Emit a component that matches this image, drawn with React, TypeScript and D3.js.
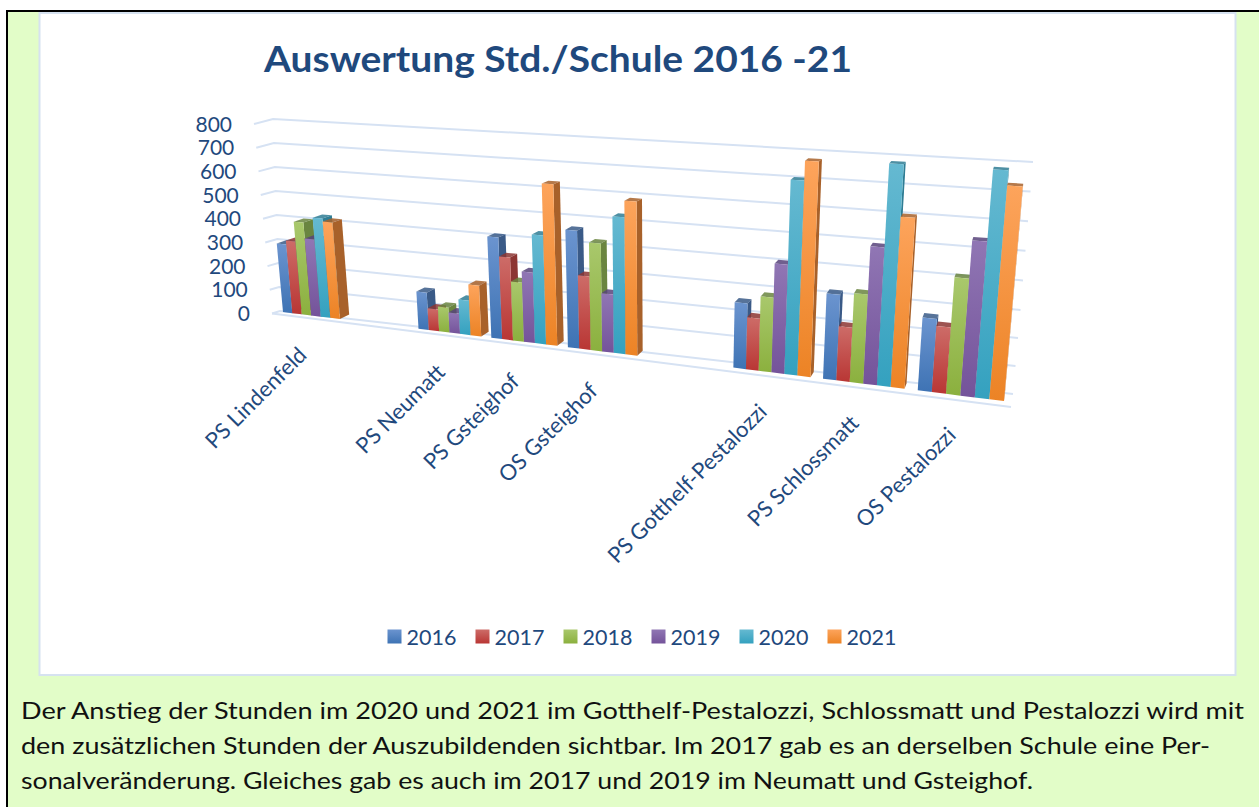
import React from "react";
import * as d3 from "d3";

const titleText = "Auswertung Std./Schule 2016 -21";
const categories = ["PS Lindenfeld", "PS Neumatt", "PS Gsteighof", "OS Gsteighof", "PS Gotthelf-Pestalozzi", "PS Schlossmatt", "OS Pestalozzi"];
const slots = [0, 2, 3, 4, 6, 7, 8];
const years = ["2016", "2017", "2018", "2019", "2020", "2021"];
const s2016 = [284, 149, 390, 441, 237, 300, 251];
const s2017 = [300, 87, 319, 277, 188, 191, 227];
const s2018 = [380, 99, 228, 402, 267, 310, 394];
const s2019 = [316, 80, 270, 219, 386, 472, 518];
const s2020 = [403, 136, 413, 503, 673, 745, 745];
const s2021 = [391, 199, 602, 562, 738, 577, 698];
const series = [s2016, s2017, s2018, s2019, s2020, s2021];
const ticks = [0, 100, 200, 300, 400, 500, 600, 700, 800];
const faceTop = ["#6b94cf", "#cd6c68", "#a9c86c", "#9076b4", "#65b9d1", "#fda45c"];
const faceBottom = ["#3e73b4", "#b93634", "#8bb03e", "#74539a", "#34a1bf", "#ec8325"];
const sideColor = ["#3a5a87", "#8c3533", "#6a8540", "#57437a", "#2f7d94", "#a8612a"];
const textLines = [
  "Der Anstieg der Stunden im 2020 und 2021 im Gotthelf-Pestalozzi, Schlossmatt und Pestalozzi wird mit",
  "den zusätzlichen Stunden der Auszubildenden sichtbar. Im 2017 gab es an derselben Schule eine Per-",
  "sonalveränderung. Gleiches gab es auch im 2017 und 2019 im Neumatt und Gsteighof.",
];
const FONT = "Lato, 'Open Sans', sans-serif";
const NAVY = "#1f497d";

// Bar front plane: a projective map from (slot, value) to the page.
const project = (s: number, value: number): [number, number] => {
  const v = value / 100;
  const w = 1 - 0.0232 * s - 0.0058 * v;
  return [(283 + 58.05 * s - 3.8 * v) / w, (312 + 0.74 * s - 25.5 * v) / w];
};
const VP: [number, number] = [1060, -30];
const DEPTH = 0.0128;
const back = (p: [number, number]): [number, number] => [p[0] + DEPTH * (VP[0] - p[0]), p[1] + DEPTH * (VP[1] - p[1])];

// Back wall and left wall gridlines.
const yLeftX = d3.scaleLinear().domain([0, 800]).range([280, 273]);
const yLeftY = d3.scaleLinear().domain([0, 800]).range([311, 119]);
const yRightX = d3.scaleLinear().domain([0, 800]).range([1013, 1033]);
const yRightY = d3.scaleLinear().domain([0, 300, 800]).range([394, 310, 162]);
const yFrontX = d3.scaleLinear().domain([0, 800]).range([272, 254]);
const yFrontY = d3.scaleLinear().domain([0, 800]).range([313.5, 124]);

const bandWidth = 0.144;
const poly = (pts: [number, number][]) => d3.line()(pts) + "Z";

export default function App() {
  return (
    <svg width={1259} height={807} style={{ position: "absolute", left: 0, top: 0, display: "block" }}>
      <defs>
        {years.map((y, i) => (
          <linearGradient key={y} id={`g${i}`} x1="0" y1="0" x2="0" y2="1">
            <stop offset="0" stopColor={faceTop[i]} />
            <stop offset="1" stopColor={faceBottom[i]} />
          </linearGradient>
        ))}
      </defs>
      <rect x={0} y={0} width={1259} height={807} fill="#ffffff" />
      <rect x={7} y={11} width={1252} height={796} fill="#e2fdc8" />
      <path d="M7 807V11H1259" fill="none" stroke="#000" strokeWidth={2} />
      <rect x={39.5} y={13} width={1196} height={662} fill="#ffffff" stroke="#d6e2f0" strokeWidth={2} />

      <text x={558} y={72} textAnchor="middle" fontFamily={FONT} fontWeight={700} fontSize={37} fill={NAVY} textLength={588} lengthAdjust="spacingAndGlyphs">
        {titleText}
      </text>

      {ticks.map((t) => (
        <g key={t}>
          <path d={d3.line()([[yFrontX(t), yFrontY(t)], [yLeftX(t), yLeftY(t)], [yRightX(t), yRightY(t)]]) || ""} fill="none" stroke="#d6e2f3" strokeWidth={2} />
          <text x={yFrontX(t) - 22} y={yFrontY(t) + 7.5} textAnchor="end" fontFamily={FONT} fontSize={21} fill={NAVY}>
            {t}
          </text>
        </g>
      ))}
      <path d={d3.line()([[yFrontX(0), yFrontY(0)], [1011, 407]]) || ""} fill="none" stroke="#d6e2f3" strokeWidth={2} />

      {categories.map((c, ci) =>
        years.map((y, si) => {
          const s0 = slots[ci] + si * bandWidth;
          const s1 = s0 + bandWidth;
          const val = series[si][ci];
          const bl = project(s0, 0), br = project(s1, 0), tl = project(s0, val), tr = project(s1, val);
          return (
            <g key={c + y}>
              <path d={poly([tl, tr, back(tr), back(tl)])} fill={sideColor[si]} fillOpacity={0.85} />
              <path d={poly([br, tr, back(tr), back(br)])} fill={sideColor[si]} />
              <path d={poly([bl, br, tr, tl])} fill={`url(#g${si})`} />
            </g>
          );
        })
      )}

      {categories.map((c, ci) => {
        const [x, y] = project(slots[ci] + 0.43, 0);
        return (
          <text key={c} transform={`translate(${x - 3},${y + 41}) rotate(-45)`} textAnchor="end" fontFamily={FONT} fontSize={22} fill={NAVY}>
            {c}
          </text>
        );
      })}

      {years.map((y, i) => (
        <g key={y} transform={`translate(${387.5 + i * 88},629.5)`}>
          <rect x={0} y={0} width={14} height={14} fill={`url(#g${i})`} />
          <text x={19} y={15} fontFamily={FONT} fontSize={21.5} fill={NAVY}>
            {y}
          </text>
        </g>
      ))}

      {textLines.map((t, i) => (
        <text key={i} x={21} y={[719, 754, 789][i]} fontFamily={FONT} fontSize={23} fill="#111" textLength={[1223, 1189, 1012][i]} lengthAdjust="spacingAndGlyphs">
          {t}
        </text>
      ))}
    </svg>
  );
}
